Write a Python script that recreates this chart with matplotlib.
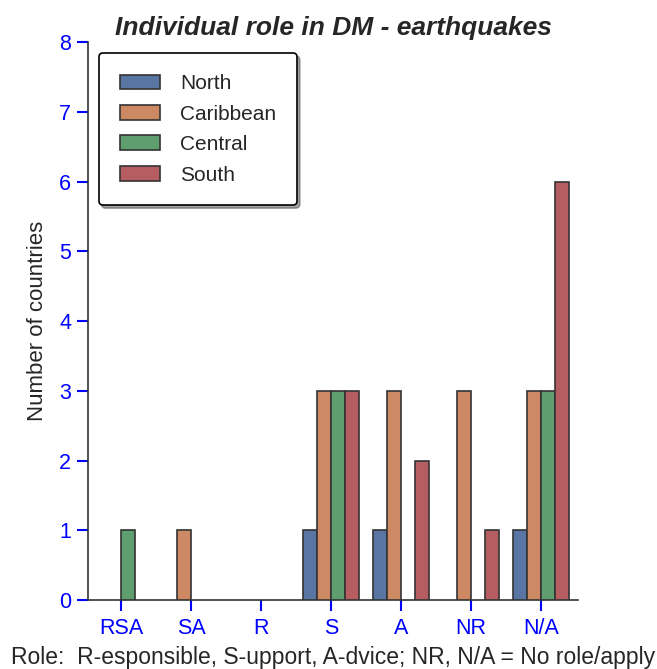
import numpy as np
import matplotlib
matplotlib.use("Agg")
import matplotlib.pyplot as plt

plt.rcParams['font.family'] = ['Liberation Sans', 'DejaVu Sans']

# data
roles = ['RSA', 'SA', 'R', 'S', 'A', 'NR', 'N/A']
regions = ['North', 'Caribbean', 'Central', 'South']
north = [0, 0, 0, 1, 1, 0, 1]
caribbean = [0, 1, 0, 3, 3, 3, 3]
central = [1, 0, 0, 3, 0, 0, 3]
south = [0, 0, 0, 3, 2, 1, 6]
# seaborn "deep" desaturated to 0.75
colors = ['#5975a4', '#cc8963', '#5f9e6e', '#b55d60']

fig = plt.figure(figsize=(6.57, 6.69), dpi=100)
ax = fig.add_axes([0.134, 0.103, 0.746, 0.834])

x = np.arange(len(roles))
w = 0.2
for i, (vals, name) in enumerate(zip([north, caribbean, central, south], regions)):
    vals = np.array(vals, dtype=float)
    keep = vals > 0
    ax.bar(x[keep] + (i - 1.5) * w, vals[keep], w, color=colors[i],
           edgecolor='#333333', linewidth=1.2, label=name, zorder=3)

ax.set_xlim(-0.47, 6.53)
ax.set_ylim(0, 8)
ax.set_xticks(x)
ax.set_xticklabels(roles)
ax.set_yticks(range(9))

for s in ['top', 'right']:
    ax.spines[s].set_visible(False)
for s in ['left', 'bottom']:
    ax.spines[s].set_color('#333333')
    ax.spines[s].set_linewidth(1.2)

ax.tick_params(axis='both', colors='blue', labelsize=15.5, direction='out',
               width=1.5)
ax.tick_params(axis='x', length=8, pad=5)
ax.tick_params(axis='y', length=8, pad=4)

ax.set_title('Individual role in DM - earthquakes', fontsize=19,
             fontweight='bold', style='italic', color='#262626', pad=5)
ax.set_ylabel('Number of countries', fontsize=16, color='#262626', labelpad=8)
ax.set_xlabel('Role:  R-esponsible, S-upport, A-dvice; NR, N/A = No role/apply',
              fontsize=16.5, color='#262626', labelpad=5)

leg = ax.legend(loc='upper left', bbox_to_anchor=(0.022, 0.98), fontsize=15,
                shadow=True, fancybox=True, borderpad=1.0, handlelength=1.95,
                handleheight=0.7, labelspacing=0.55, handletextpad=0.95,
                borderaxespad=0.0)
leg.get_frame().set_edgecolor('black')
leg.get_frame().set_linewidth(1.2)
for t in leg.get_texts():
    t.set_color('#262626')

fig.savefig('out.png', dpi=100)
